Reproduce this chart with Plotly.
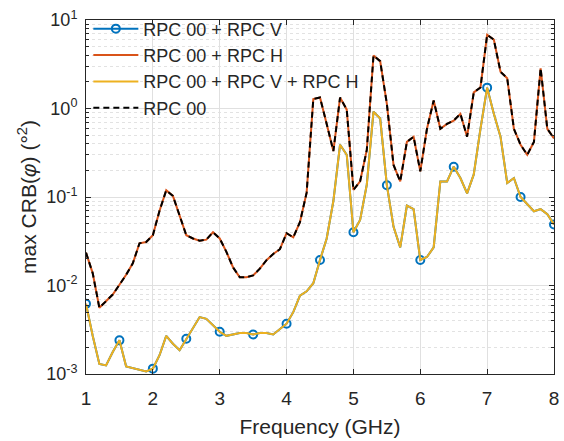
import plotly.graph_objects as go

freq = [1.0, 1.1, 1.2, 1.3, 1.4, 1.5, 1.6, 1.7, 1.8, 1.9,
        2.0, 2.1, 2.2, 2.3, 2.4, 2.5, 2.6, 2.7, 2.8, 2.9,
        3.0, 3.1, 3.2, 3.3, 3.4, 3.5, 3.6, 3.7, 3.8, 3.9,
        4.0, 4.1, 4.2, 4.3, 4.4, 4.5, 4.6, 4.7, 4.8, 4.9,
        5.0, 5.1, 5.2, 5.3, 5.4, 5.5, 5.6, 5.7, 5.8, 5.9,
        6.0, 6.1, 6.2, 6.3, 6.4, 6.5, 6.6, 6.7, 6.8, 6.9,
        7.0, 7.1, 7.2, 7.3, 7.4, 7.5, 7.6, 7.7, 7.8, 7.9, 8.0]

rpc00 = [0.0235, 0.0138, 0.0056, 0.0066, 0.0079, 0.0102, 0.0132, 0.0178, 0.030, 0.031,
         0.037, 0.070, 0.119, 0.103, 0.061, 0.037, 0.034, 0.032, 0.033, 0.040,
         0.034, 0.024, 0.016, 0.0124, 0.0124, 0.013, 0.0155, 0.0193, 0.0227, 0.0257,
         0.039, 0.035, 0.052, 0.112, 1.28, 1.33, 0.67, 0.33, 1.33, 0.97,
         0.12, 0.15, 0.34, 3.97, 3.43, 1.13, 0.23, 0.15, 0.42, 0.48,
         0.195, 0.59, 1.23, 0.59, 0.67, 0.73, 0.87, 0.48, 1.52, 1.73,
         6.8, 6.0, 2.6, 2.2, 0.59, 0.39, 0.30, 0.42, 2.85, 0.59, 0.46]

rpc00_h = list(rpc00)

rpc00_v_h = [0.0062, 0.0027, 0.0013, 0.00125, 0.00177, 0.0024, 0.00122, 0.00116, 0.00112, 0.00107,
             0.00115, 0.00163, 0.0027, 0.0022, 0.00186, 0.0025, 0.0033, 0.0044, 0.0042, 0.0035,
             0.0030, 0.0027, 0.0028, 0.0029, 0.0029, 0.0028, 0.0029, 0.0029, 0.0028, 0.0032,
             0.0037, 0.0050, 0.0077, 0.0086, 0.0106, 0.0194, 0.034, 0.090, 0.39, 0.30,
             0.040, 0.055, 0.138, 0.92, 0.77, 0.136, 0.046, 0.027, 0.080, 0.073,
             0.0194, 0.021, 0.027, 0.150, 0.150, 0.22, 0.164, 0.110, 0.180, 0.59,
             1.72, 0.87, 0.48, 0.144, 0.164, 0.100, 0.083, 0.069, 0.073, 0.064, 0.049]

rpc00_v = list(rpc00_v_h)

names = ["RPC 00 + RPC V", "RPC 00 + RPC H", "RPC 00 + RPC V + RPC H", "RPC 00"]

ytick_vals = [1e-3, 1e-2, 1e-1, 1e0, 1e1]
ytick_text = ["10<sup>-3</sup>", "10<sup>-2</sup>", "10<sup>-1</sup>", "10<sup>0</sup>", "10<sup>1</sup>"]
xtick_vals = [1, 2, 3, 4, 5, 6, 7, 8]

BLUE = "#0072BD"
ORANGE = "#D95319"
YELLOW = "#EDB120"
TXT = "#262626"

marker_every = 5
marker_colors = [BLUE if i % marker_every == 0 else "rgba(0,0,0,0)" for i in range(len(freq))]

fig = go.Figure()
fig.add_trace(go.Scatter(
    x=freq, y=rpc00_v, name=names[0], mode="lines+markers",
    line=dict(color=BLUE, width=2),
    marker=dict(symbol="circle-open", size=8, color=marker_colors, line=dict(width=2)),
))
fig.add_trace(go.Scatter(
    x=freq, y=rpc00_h, name=names[1], mode="lines",
    line=dict(color=ORANGE, width=2),
))
fig.add_trace(go.Scatter(
    x=freq, y=rpc00_v_h, name=names[2], mode="lines",
    line=dict(color=YELLOW, width=2),
))
fig.add_trace(go.Scatter(
    x=freq, y=rpc00, name=names[3], mode="lines",
    line=dict(color="black", width=2, dash="6px,4px"),
))

minor_y = [m * 10.0 ** k for k in range(-3, 1) for m in range(2, 10)]

fig.update_layout(
    width=564, height=441,
    margin=dict(l=86, r=10, t=18, b=67),
    paper_bgcolor="white", plot_bgcolor="white",
    font=dict(family="Liberation Sans, Arial, sans-serif", color=TXT, size=18),
    showlegend=True,
    legend=dict(
        x=0.005, y=1.027, xanchor="left", yanchor="top",
        bgcolor="rgba(0,0,0,0)", borderwidth=0,
        font=dict(size=18, color=TXT), tracegroupgap=0,
        itemwidth=45,
    ),
    xaxis=dict(
        range=[1, 8], tickvals=xtick_vals, ticks="inside", ticklen=5, tickcolor=TXT,
        showline=True, linecolor=TXT, linewidth=1, mirror="ticks",
        showgrid=True, gridcolor="#e0e0e0", gridwidth=1, zeroline=False,
        tickfont=dict(size=19, color=TXT), ticklabelstandoff=7,
        automargin=False,
        title=dict(text="Frequency (GHz)", font=dict(size=21, color=TXT), standoff=11),
    ),
    yaxis=dict(
        type="log", range=[-3, 1], tickvals=ytick_vals, ticktext=ytick_text,
        ticks="inside", ticklen=5, tickcolor=TXT,
        showline=True, linecolor=TXT, linewidth=1, mirror="ticks",
        showgrid=True, gridcolor="#e0e0e0", gridwidth=1, zeroline=False,
        tickfont=dict(size=18, color=TXT), ticklabelstandoff=4,
        automargin=False,
        minor=dict(tickvals=minor_y, ticks="inside", ticklen=3, tickcolor=TXT,
                   showgrid=True, gridcolor="#e2e2e2", griddash="dot", gridwidth=1),
        title=dict(text="max CRB(<i>φ</i>) (°<sup>2</sup>)", font=dict(size=21, color=TXT), standoff=3),
    ),
)

fig.write_html("out.html")
